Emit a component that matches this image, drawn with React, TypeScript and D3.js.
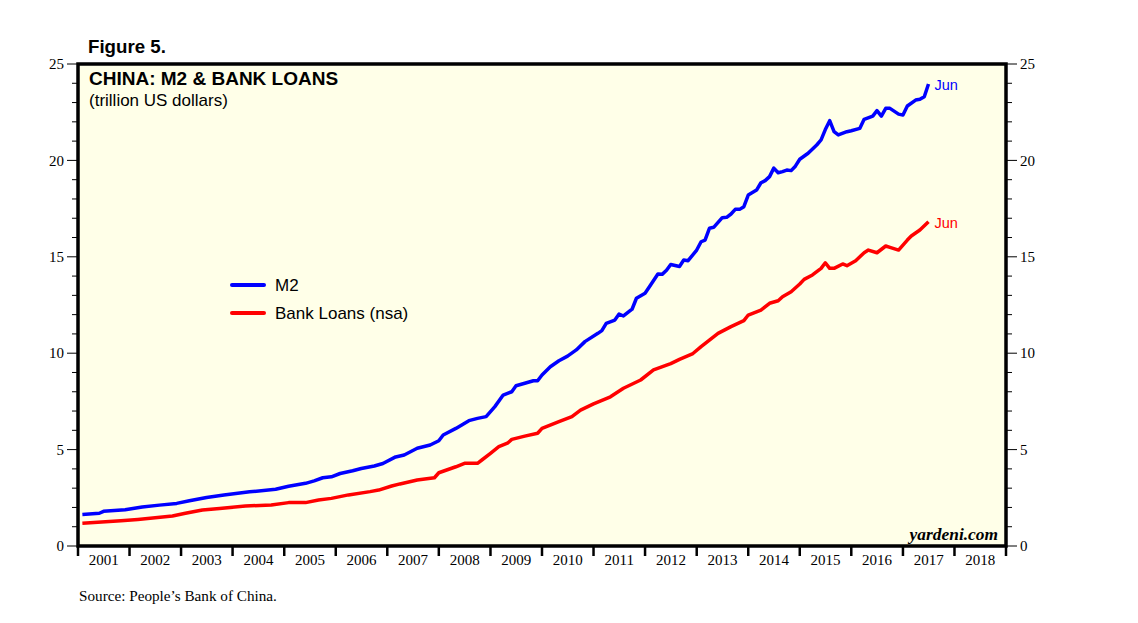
import React from 'react';
import * as d3 from 'd3';

// monthly readings (trillion US$), month-end
const m2Points: [string, number][] = [
  ['2001-01', 1.64], ['2001-05', 1.70], ['2001-06', 1.80], ['2001-11', 1.88],
  ['2002-03', 2.02], ['2002-07', 2.12], ['2002-11', 2.21], ['2003-02', 2.35],
  ['2003-06', 2.52], ['2003-10', 2.65], ['2004-04', 2.81], ['2004-10', 2.94],
  ['2005-01', 3.10], ['2005-05', 3.25], ['2005-07', 3.38], ['2005-09', 3.54],
  ['2005-11', 3.59], ['2006-01', 3.76], ['2006-04', 3.90], ['2006-06', 4.02],
  ['2006-09', 4.15], ['2006-11', 4.28], ['2007-02', 4.62], ['2007-04', 4.72],
  ['2007-07', 5.07], ['2007-10', 5.24], ['2007-12', 5.46], ['2008-01', 5.76],
  ['2008-04', 6.10], ['2008-07', 6.50], ['2008-09', 6.62], ['2008-11', 6.71],
  ['2009-01', 7.23], ['2009-03', 7.83], ['2009-05', 8.00], ['2009-06', 8.31],
  ['2009-08', 8.44], ['2009-10', 8.57], ['2009-11', 8.57], ['2009-12', 8.87],
  ['2010-02', 9.30], ['2010-04', 9.61], ['2010-06', 9.85], ['2010-08', 10.17],
  ['2010-10', 10.60], ['2011-01', 11.03], ['2011-02', 11.17], ['2011-03', 11.55],
  ['2011-05', 11.72], ['2011-06', 12.03], ['2011-07', 11.93], ['2011-09', 12.28],
  ['2011-10', 12.85], ['2011-12', 13.11], ['2012-01', 13.45], ['2012-03', 14.11],
  ['2012-04', 14.09], ['2012-05', 14.30], ['2012-06', 14.60], ['2012-08', 14.50],
  ['2012-09', 14.83], ['2012-10', 14.80], ['2012-12', 15.35], ['2013-01', 15.78],
  ['2013-02', 15.87], ['2013-03', 16.48], ['2013-04', 16.53], ['2013-06', 17.03],
  ['2013-07', 17.05], ['2013-08', 17.22], ['2013-09', 17.46], ['2013-10', 17.46],
  ['2013-11', 17.60], ['2013-12', 18.20], ['2014-02', 18.46], ['2014-03', 18.84],
  ['2014-04', 18.95], ['2014-05', 19.16], ['2014-06', 19.60], ['2014-07', 19.36],
  ['2014-08', 19.42], ['2014-09', 19.50], ['2014-10', 19.47], ['2014-11', 19.70],
  ['2014-12', 20.06], ['2015-02', 20.37], ['2015-04', 20.80], ['2015-05', 21.06],
  ['2015-06', 21.60], ['2015-07', 22.06], ['2015-08', 21.49], ['2015-09', 21.32],
  ['2015-11', 21.49], ['2015-12', 21.54], ['2016-02', 21.66], ['2016-03', 22.13],
  ['2016-05', 22.30], ['2016-06', 22.58], ['2016-07', 22.30], ['2016-08', 22.70],
  ['2016-09', 22.70], ['2016-11', 22.40], ['2016-12', 22.35], ['2017-01', 22.82],
  ['2017-03', 23.13], ['2017-04', 23.17], ['2017-05', 23.30], ['2017-06', 23.96],
];

const loanPoints: [string, number][] = [
  ['2001-01', 1.18], ['2001-10', 1.31], ['2002-02', 1.38], ['2002-10', 1.56],
  ['2003-01', 1.70], ['2003-05', 1.87], ['2003-09', 1.95], ['2004-03', 2.07],
  ['2004-09', 2.13], ['2005-01', 2.25], ['2005-05', 2.25], ['2005-08', 2.39],
  ['2005-11', 2.47], ['2006-03', 2.65], ['2006-08', 2.82], ['2006-10', 2.90],
  ['2007-01', 3.11], ['2007-03', 3.22], ['2007-07', 3.42], ['2007-11', 3.54],
  ['2007-12', 3.80], ['2008-04', 4.11], ['2008-06', 4.29], ['2008-09', 4.29],
  ['2008-10', 4.46], ['2008-12', 4.81], ['2009-02', 5.15], ['2009-04', 5.33],
  ['2009-05', 5.53], ['2009-08', 5.70], ['2009-11', 5.85], ['2009-12', 6.10],
  ['2010-04', 6.45], ['2010-07', 6.71], ['2010-09', 7.05], ['2010-12', 7.37],
  ['2011-04', 7.74], ['2011-07', 8.18], ['2011-11', 8.61], ['2012-02', 9.13],
  ['2012-06', 9.46], ['2012-08', 9.68], ['2012-11', 9.96], ['2013-01', 10.34],
  ['2013-03', 10.68], ['2013-05', 11.03], ['2013-08', 11.38], ['2013-11', 11.69],
  ['2013-12', 11.98], ['2014-03', 12.24], ['2014-05', 12.59], ['2014-07', 12.72],
  ['2014-08', 12.93], ['2014-10', 13.19], ['2014-12', 13.59], ['2015-01', 13.83],
  ['2015-03', 14.06], ['2015-05', 14.40], ['2015-06', 14.69], ['2015-07', 14.40],
  ['2015-08', 14.40], ['2015-10', 14.63], ['2015-11', 14.54], ['2016-01', 14.80],
  ['2016-03', 15.21], ['2016-04', 15.35], ['2016-06', 15.21], ['2016-08', 15.56],
  ['2016-09', 15.49], ['2016-11', 15.35], ['2017-01', 15.87], ['2017-02', 16.08],
  ['2017-04', 16.39], ['2017-06', 16.82],
];

const yearLabels = d3.range(2001, 2019);
const yTicks = d3.range(0, 26, 1);

const ARIAL = '"Liberation Sans", Arial, sans-serif';
const TIMES = '"Liberation Serif", "Times New Roman", serif';

// month-end date for a "YYYY-MM" string
const monthEnd = (s: string) => {
  const [y, m] = s.split('-').map(Number);
  return new Date(y, m, 1);
};

const App = () => {
  const W = 1138;
  const H = 623;
  const left = 78;
  const right = 1006;
  const top = 64;
  const bottom = 546;

  const x = d3
    .scaleTime()
    .domain([new Date(2001, 0, 1), new Date(2019, 0, 1)])
    .range([left, right]);
  const y = d3.scaleLinear().domain([0, 25]).range([bottom, top]);

  const line = d3
    .line<[string, number]>()
    .x((d) => x(monthEnd(d[0])))
    .y((d) => y(d[1]));

  const yearStarts = d3.range(2001, 2020).map((yr) => new Date(yr, 0, 1));
  const lastM2 = m2Points[m2Points.length - 1];
  const lastLoan = loanPoints[loanPoints.length - 1];

  return (
    <svg width={W} height={H} style={{ position: 'absolute', left: 0, top: 0 }}>
      <rect x={0} y={0} width={W} height={H} fill="#fff" />
      <text x={88} y={53} fontFamily={ARIAL} fontWeight="bold" fontSize={18.7}>
        Figure 5.
      </text>

      <rect x={left} y={top} width={right - left} height={bottom - top} fill="#FFFFE8" />

      {/* y ticks, both sides */}
      {yTicks.map((t) => {
        const major = t % 5 === 0;
        const len = major ? 11 : 6;
        return (
          <g key={t}>
            <line x1={left - len} x2={left} y1={y(t)} y2={y(t)} stroke="#000" strokeWidth={1} />
            <line x1={right} x2={right + len} y1={y(t)} y2={y(t)} stroke="#000" strokeWidth={1} />
            {major && (
              <>
                <text x={left - 14} y={y(t)} dy="0.35em" textAnchor="end" fontFamily={TIMES} fontSize={15}>
                  {t}
                </text>
                <text x={right + 14} y={y(t)} dy="0.35em" textAnchor="start" fontFamily={TIMES} fontSize={15}>
                  {t}
                </text>
              </>
            )}
          </g>
        );
      })}

      {/* x ticks at year boundaries */}
      {yearStarts.map((d, i) => (
        <line key={i} x1={x(d)} x2={x(d)} y1={bottom} y2={bottom + 10} stroke="#000" strokeWidth={2.5} />
      ))}
      {yearLabels.map((yr) => (
        <text
          key={yr}
          x={(x(new Date(yr, 0, 1)) + x(new Date(yr + 1, 0, 1))) / 2}
          y={565}
          textAnchor="middle"
          fontFamily={TIMES}
          fontSize={15}
        >
          {yr}
        </text>
      ))}

      <path d={line(loanPoints) || ''} fill="none" stroke="#FF0000" strokeWidth={3.5} strokeLinejoin="round" />
      <path d={line(m2Points) || ''} fill="none" stroke="#0000FF" strokeWidth={3.5} strokeLinejoin="round" />

      <text x={x(monthEnd(lastM2[0])) + 6} y={y(lastM2[1]) + 1} dy="0.35em" fontFamily={ARIAL} fontSize={14.5} fill="#0000FF">
        Jun
      </text>
      <text x={x(monthEnd(lastLoan[0])) + 6} y={y(lastLoan[1]) + 1} dy="0.35em" fontFamily={ARIAL} fontSize={14.5} fill="#FF0000">
        Jun
      </text>

      <rect x={left} y={top} width={right - left} height={bottom - top} fill="none" stroke="#000" strokeWidth={3.5} />

      <text x={89} y={85} fontFamily={ARIAL} fontWeight="bold" fontSize={19}>
        CHINA: M2 &amp; BANK LOANS
      </text>
      <text x={89} y={106} fontFamily={ARIAL} fontSize={17}>
        (trillion US dollars)
      </text>

      {/* legend */}
      <line x1={232} x2={264} y1={285} y2={285} stroke="#0000FF" strokeWidth={4} strokeLinecap="round" />
      <text x={275} y={285} dy="0.35em" fontFamily={ARIAL} fontSize={17}>
        M2
      </text>
      <line x1={232} x2={264} y1={313} y2={313} stroke="#FF0000" strokeWidth={4} strokeLinecap="round" />
      <text x={275} y={313} dy="0.35em" fontFamily={ARIAL} fontSize={17}>
        Bank Loans (nsa)
      </text>

      <text x={998} y={540} textAnchor="end" fontFamily={TIMES} fontStyle="italic" fontWeight="bold" fontSize={17.4}>
        yardeni.com
      </text>

      <text x={79} y={601} fontFamily={TIMES} fontSize={15.2}>
        Source: People’s Bank of China.
      </text>
    </svg>
  );
};

export default App;
